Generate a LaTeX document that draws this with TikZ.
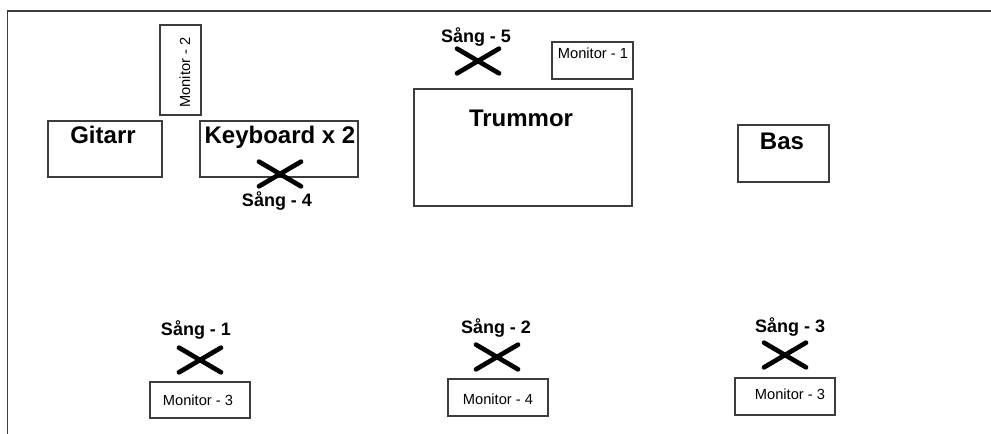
\documentclass[tikz,border=0pt]{standalone}
\usepackage{fontspec}
\setmainfont{Liberation Sans}
\usetikzlibrary{shapes.misc}
\definecolor{edgegray}{RGB}{60,60,60}

\tikzset{
  box/.style={draw=edgegray, line width=1pt, rectangle, inner sep=0pt},
  title/.style={font=\fontsize{18}{20}\selectfont\bfseries, inner sep=0pt, anchor=base},
  singtxt/.style={font=\fontsize{13.5}{15}\selectfont\bfseries, inner sep=0pt, anchor=base},
  montxt/.style={font=\fontsize{11}{13}\selectfont, inner sep=0pt, anchor=base},
  singer/.style={cross out, draw=black, line width=3.5pt, line cap=round,
    minimum width=28pt, minimum height=15pt, inner sep=0pt}
}

\begin{document}
\begin{tikzpicture}[x=0.75pt, y=-0.75pt]
\useasboundingbox (0,0) rectangle (991,434);

% Stage frame
\draw[edgegray, line width=1.1pt] (991,11) -- (7.5,11) -- (7.5,434);

% Instruments
\node[box, minimum width=85.5pt, minimum height=42pt] (gitarr) at (105,149) {};
\node[title] (gitarr-t) at (103,144) {Gitarr};
\node[box, minimum width=118.5pt, minimum height=42pt] (keyb) at (279,149) {};
\node[title] (keyb-t) at (280,144) {Keyboard x 2};
\node[box, minimum width=163.5pt, minimum height=87.75pt] (trum) at (523,147.5) {};
\node[title] (trum-t) at (521,127) {Trummor};
\node[box, minimum width=68.25pt, minimum height=42.75pt] (bas) at (783.5,153.5) {};
\node[title] (bas-t) at (782,150) {Bas};

% Monitors
\node[box, minimum width=30.75pt, minimum height=67.5pt] (mon2) at (180.5,70) {};
\node[montxt, rotate=90] (mon2-t) at (190,72.5) {Monitor - 2};
\node[box, minimum width=60.75pt, minimum height=27.75pt] (mon1) at (592.5,60.5) {};
\node[montxt] (mon1-t) at (593,59) {Monitor - 1};
\node[box, minimum width=75pt, minimum height=27pt] (mon3a) at (200,400) {};
\node[montxt] (mon3a-t) at (198,405.5) {Monitor - 3};
\node[box, minimum width=75pt, minimum height=27.75pt] (mon4) at (498,397.5) {};
\node[montxt] (mon4-t) at (498,404) {Monitor - 4};
\node[box, minimum width=75pt, minimum height=27.75pt] (mon3b) at (785,396.5) {};
\node[montxt] (mon3b-t) at (790,399) {Monitor - 3};

% Singers
\foreach \n/\x/\y/\lx/\ly in {1/200/360/196/335, 2/497/357/496/333,
    3/785/355/790/332, 4/280/174/277/207, 5/478/61/476/43} {
    \node[singer] (sang\n) at (\x,\y) {};
    \node[singtxt] (sang\n-t) at (\lx,\ly) {Sång - \n};
}
\end{tikzpicture}
\end{document}
